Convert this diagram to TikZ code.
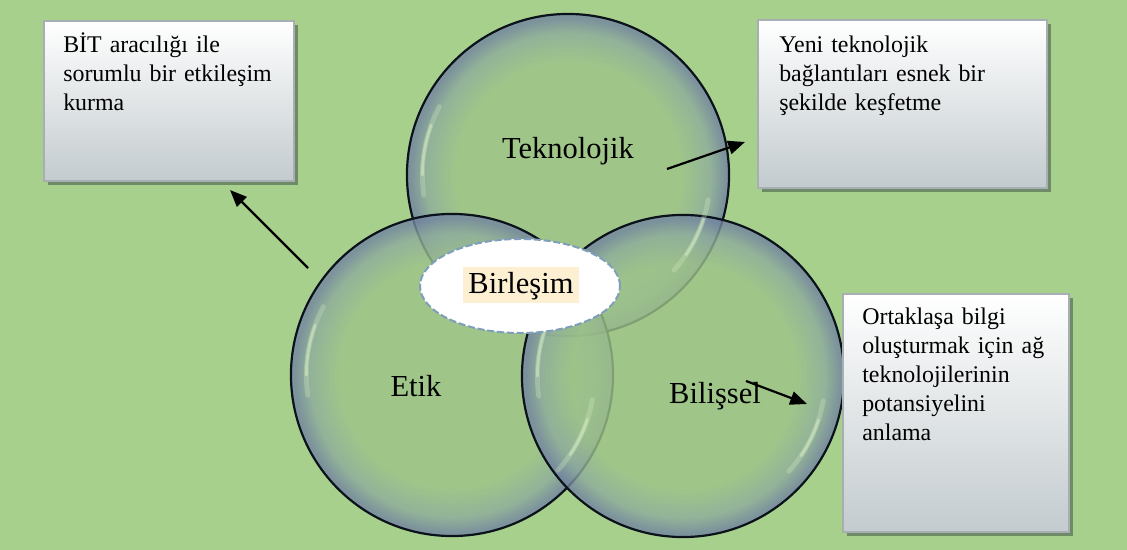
\documentclass[tikz,border=0pt]{standalone}
\usepackage{fontspec}
\setmainfont{Liberation Serif}
\usetikzlibrary{arrows.meta,shadows,shapes.geometric}

\definecolor{bg}{HTML}{A8D08D}
\definecolor{bubin}{HTML}{9EC389}
\definecolor{bubmid}{HTML}{8EAC9C}
\definecolor{bubrim}{HTML}{7284A0}
\definecolor{bubline}{HTML}{0C121C}
\definecolor{glintc}{HTML}{D4ECC2}
\definecolor{boxtop}{HTML}{FFFFFF}
\definecolor{boxbot}{HTML}{C3CBCE}
\definecolor{boxedge}{HTML}{A7AFB3}
\definecolor{boxshade}{HTML}{6F8A66}
\definecolor{tagfill}{HTML}{FDEFD2}
\definecolor{ovaledge}{HTML}{7E9EBB}

% glassy bubble: flat green body, slate-blue rim
\pgfdeclareradialshading{bubble}{\pgfpointorigin}{color(0bp)=(bubin); color(17.5bp)=(bubin); color(22bp)=(bubmid); color(24.4bp)=(bubrim); color(25bp)=(bubrim); color(50bp)=(bubrim)}

\begin{document}
\begin{tikzpicture}[x=0.025cm,y=-0.025cm,
  bubblenode/.style={circle, minimum size=8.05cm, inner sep=0, shade, shading=bubble,
    fill opacity=0.8, draw=bubline, draw opacity=1, line width=0.055cm},
  glint/.style={draw=glintc, line width=0.12cm, line cap=round, opacity=0.3},
  glintcore/.style={draw=glintc, line width=0.07cm, line cap=round, opacity=0.55},
  infobox/.style={rectangle, draw=boxedge, line width=0.05cm, top color=boxtop,
    bottom color=boxbot, inner sep=0,
    drop shadow={shadow xshift=0.1cm, shadow yshift=-0.11cm, fill=boxshade, opacity=1}},
  boxtext/.style={anchor=base west, align=left, text width=7cm, inner sep=0,
    font=\fontsize{17pt}{20.6pt}\selectfont},
  lbl/.style={anchor=base, inner sep=0, font=\fontsize{21.7pt}{26pt}\selectfont},
  tag/.style={lbl, fill=tagfill, inner xsep=0.13cm, inner ysep=0,
    text height=0.675cm, text depth=0.225cm},
  oval/.style={ellipse, draw=ovaledge, fill=white, line width=0.05cm,
    dash pattern=on 5pt off 2pt, minimum width=5cm, minimum height=2.35cm, inner sep=0},
  arr/.style={-{Triangle[length=0.42cm,width=0.34cm]}, line width=0.055cm, black}]

\useasboundingbox (0,0) rectangle (1127,550);
\fill[bg] (0,0) rectangle (1127,550);

% the three overlapping circles
\node[bubblenode] (tek) at (568,175) {};
\node[bubblenode] (etik) at (452,375) {};
\node[bubblenode] (bil) at (683,376) {};

% soft glints along the rims
\foreach \c in {tek,etik,bil}{
  \draw[glint] (\c.center) ++(152:3.64cm) arc[start angle=152, end angle=188, radius=3.64cm];
  \draw[glintcore] (\c.center) ++(160:3.64cm) arc[start angle=160, end angle=180, radius=3.64cm];
  \draw[glint] (\c.center) ++(-10:3.56cm) arc[start angle=-10, end angle=-42, radius=3.56cm];
  \draw[glintcore] (\c.center) ++(-18:3.56cm) arc[start angle=-18, end angle=-34, radius=3.56cm];
}

% circle labels
\node[lbl] (tekl) at (568,159) {Teknolojik};
\node[lbl] (etikl) at (416,397) {Etik};
\node[lbl] (bill) at (715,404) {Bilişsel};

% central union
\node[oval] (bir) at (520,286) {};
\node[tag] (birl) at (521,294) {Birleşim};

% explanation boxes
\node[infobox, minimum width=6.25cm, minimum height=4cm] (b1) at (169,101) {};
\node[boxtext] (t1) at (63,53) {BİT aracılığı ile\\sorumlu bir etkileşim\\kurma};

\node[infobox, minimum width=7.225cm, minimum height=4.2cm] (b2) at (902.5,104) {};
\node[boxtext] (t2) at (779,53) {Yeni teknolojik\\bağlantıları esnek bir\\şekilde keşfetme};

\node[infobox, minimum width=5.65cm, minimum height=5.95cm] (b3) at (956,413) {};
\node[boxtext] (t3) at (862,325) {Ortaklaşa bilgi\\oluşturmak için ağ\\teknolojilerinin\\potansiyelini\\anlama};

% arrows
\coordinate (a1s) at (308,268);
\coordinate (a1e) at (230,190);
\coordinate (a2s) at (667,169);
\coordinate (a2e) at (745,142);
\coordinate (a3s) at (746,381);
\coordinate (a3e) at (807,404);
\draw[arr] (a1s) -- (a1e);
\draw[arr] (a2s) -- (a2e);
\draw[arr] (a3s) -- (a3e);
\end{tikzpicture}
\end{document}
